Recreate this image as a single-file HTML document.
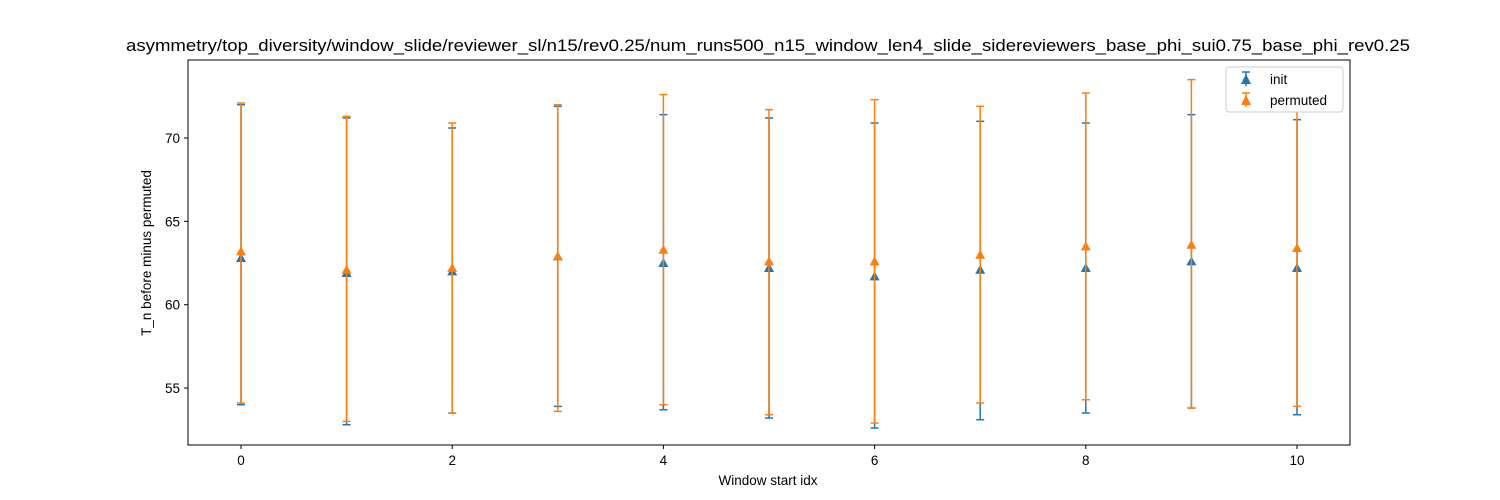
<!DOCTYPE html>
<html><head><meta charset="utf-8"><style>
body{margin:0;background:#fff;}
svg{display:block;font-family:"Liberation Sans","DejaVu Sans",sans-serif;}
</style></head><body>
<svg id="chart" width="1500" height="500">
<text x="768" y="51" font-size="16.7" text-anchor="middle" textLength="1284" lengthAdjust="spacingAndGlyphs">asymmetry/top_diversity/window_slide/reviewer_sl/n15/rev0.25/num_runs500_n15_window_len4_slide_sidereviewers_base_phi_sui0.75_base_phi_rev0.25</text>
<g id="marks"></g>
<rect x="188" y="60" width="1162" height="385" fill="none" stroke="#000" stroke-width="1"/>
<g id="axes"></g>
<text x="768" y="485" font-size="13.5" text-anchor="middle">Window start idx</text>
<text transform="translate(151,253) rotate(-90)" font-size="13.5" text-anchor="middle">T_n before minus permuted</text>
<g>
<rect x="1226" y="67" width="117" height="45" rx="3" fill="#fff" stroke="#ccc"/>
<g>
<line x1="1246" y1="72" x2="1246" y2="86" stroke="#1f77b4" stroke-width="1.5"/>
<line x1="1242" y1="72" x2="1250" y2="72" stroke="#1f77b4" stroke-width="1.5"/>
<polygon points="1246,74 1251,84 1241,84" fill="#1f77b4"/>
<text x="1270" y="84" font-size="13.5">init</text></g>
<g>
<line x1="1246" y1="93" x2="1246" y2="107" stroke="#ff7f0e" stroke-width="1.5"/>
<line x1="1242" y1="93" x2="1250" y2="93" stroke="#ff7f0e" stroke-width="1.5"/>
<polygon points="1246,95 1251,105 1241,105" fill="#ff7f0e"/>
<text x="1270" y="105" font-size="13.5">permuted</text></g>
</g>
</svg>
<script>
const xIdx=[0,1,2,3,4,5,6,7,8,9,10];
const initMean=[62.8,61.9,62.0,62.9,62.5,62.2,61.7,62.1,62.2,62.6,62.2];
const initHigh=[72.0,71.2,70.6,71.9,71.4,71.2,70.9,71.0,70.9,71.4,71.1];
const initLow=[54.0,52.8,53.5,53.9,53.7,53.2,52.6,53.1,53.5,53.8,53.4];
const permMean=[63.2,62.1,62.2,62.9,63.3,62.6,62.6,63.0,63.5,63.6,63.4];
const permHigh=[72.1,71.3,70.9,72.0,72.6,71.7,72.3,71.9,72.7,73.5,72.8];
const permLow=[54.1,53.0,53.5,53.6,54.0,53.4,52.9,54.1,54.3,53.8,53.9];
const xTicks=[0,2,4,6,8,10];
const yTicks=[55,60,65,70];
const NS="http://www.w3.org/2000/svg";
function X(v){return 241+v*105.6;}
function Y(v){return 304.7-(v-60)*16.67;}
function mk(tag,attrs,parent){const e=document.createElementNS(NS,tag);for(const k in attrs)e.setAttribute(k,attrs[k]);parent.appendChild(e);return e;}
const marks=document.getElementById('marks'),axes=document.getElementById('axes');
function series(mean,hi,lo,color,name){
  for(let i=0;i<xIdx.length;i++){
    const x=X(xIdx[i]);
    const g=mk('g',{},marks);
    
    
    mk('line',{x1:x,x2:x,y1:Y(hi[i]),y2:Y(lo[i]),stroke:color,'stroke-width':1.5},g);
    mk('line',{x1:x-4,x2:x+4,y1:Y(hi[i]),y2:Y(hi[i]),stroke:color,'stroke-width':1.5},g);
    mk('line',{x1:x-4,x2:x+4,y1:Y(lo[i]),y2:Y(lo[i]),stroke:color,'stroke-width':1.5},g);
    const y=Y(mean[i]);
    mk('polygon',{points:`${x},${y-5} ${x+5},${y+4} ${x-5},${y+4}`,fill:color},g);
  }
}
series(initMean,initHigh,initLow,'#1f77b4','init');
series(permMean,permHigh,permLow,'#ff7f0e','permuted');
xTicks.forEach(t=>{
  const x=X(t);
  const l=mk('line',{x1:x,x2:x,y1:445,y2:449,stroke:'#000'},axes);
  
  
  const tx=mk('text',{x:x,y:465,'font-size':13.5,'text-anchor':'middle'},axes);
  tx.textContent=t;
  
  
});
yTicks.forEach(t=>{
  const y=Y(t);
  const l=mk('line',{x1:184,x2:188,y1:y,y2:y,stroke:'#000'},axes);
  
  
  const tx=mk('text',{x:180,y:y+5,'font-size':13.5,'text-anchor':'end'},axes);
  tx.textContent=t;
  
  
});
</script>
</body></html>
